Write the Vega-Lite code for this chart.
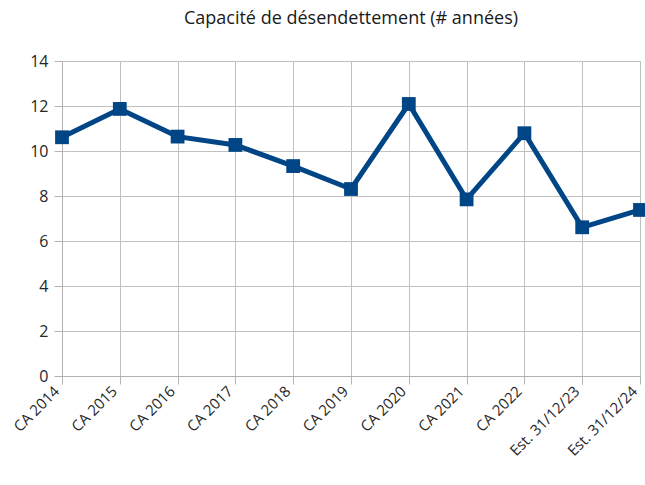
{
  "$schema": "https://vega.github.io/schema/vega-lite/v6.json",
  "autosize": "none",
  "padding": {"left": 62, "top": 61, "right": 5, "bottom": 109},
  "width": 578,
  "height": 315,
  "background": "white",
  "title": {
    "text": "Capacité de désendettement (# années)",
    "anchor": "middle",
    "font": "Open Sans",
    "fontSize": 18,
    "fontWeight": "normal",
    "color": "#1a1a1a",
    "offset": 25
  },
  "config": {
    "view": {"stroke": "#c0c0c0", "strokeWidth": 1},
    "font": "Open Sans"
  },
  "data": {
    "values": [
      {"periode": "CA 2014", "valeur": 10.61},
      {"periode": "CA 2015", "valeur": 11.87},
      {"periode": "CA 2016", "valeur": 10.64},
      {"periode": "CA 2017", "valeur": 10.27},
      {"periode": "CA 2018", "valeur": 9.33},
      {"periode": "CA 2019", "valeur": 8.31},
      {"periode": "CA 2020", "valeur": 12.09},
      {"periode": "CA 2021", "valeur": 7.85},
      {"periode": "CA 2022", "valeur": 10.79},
      {"periode": "Est. 31/12/23", "valeur": 6.61},
      {"periode": "Est. 31/12/24", "valeur": 7.38}
    ]
  },
  "mark": {
    "type": "line",
    "color": "#004586",
    "strokeWidth": 5,
    "point": {"shape": "square", "size": 190, "filled": true, "color": "#004586", "opacity": 1}
  },
  "encoding": {
    "x": {
      "field": "periode",
      "type": "ordinal",
      "sort": null,
      "scale": {"type": "point", "padding": 0},
      "axis": {
        "title": null,
        "labelAngle": -45,
        "labelAlign": "right",
        "labelBaseline": "bottom",
        "labelFontSize": 15,
        "labelColor": "#262626",
        "labelPadding": 10,
        "labelOverlap": false,
        "tickColor": "#b3b3b3",
        "tickSize": 8,
        "domainColor": "#b3b3b3",
        "grid": true,
        "gridColor": "#c0c0c0"
      }
    },
    "y": {
      "field": "valeur",
      "type": "quantitative",
      "scale": {"domain": [0, 14], "nice": false},
      "axis": {
        "title": null,
        "values": [0, 2, 4, 6, 8, 10, 12, 14],
        "labelFontSize": 16,
        "labelColor": "#262626",
        "labelPadding": 6,
        "tickColor": "#b3b3b3",
        "tickSize": 8,
        "domainColor": "#b3b3b3",
        "gridColor": "#c0c0c0"
      }
    }
  }
}
